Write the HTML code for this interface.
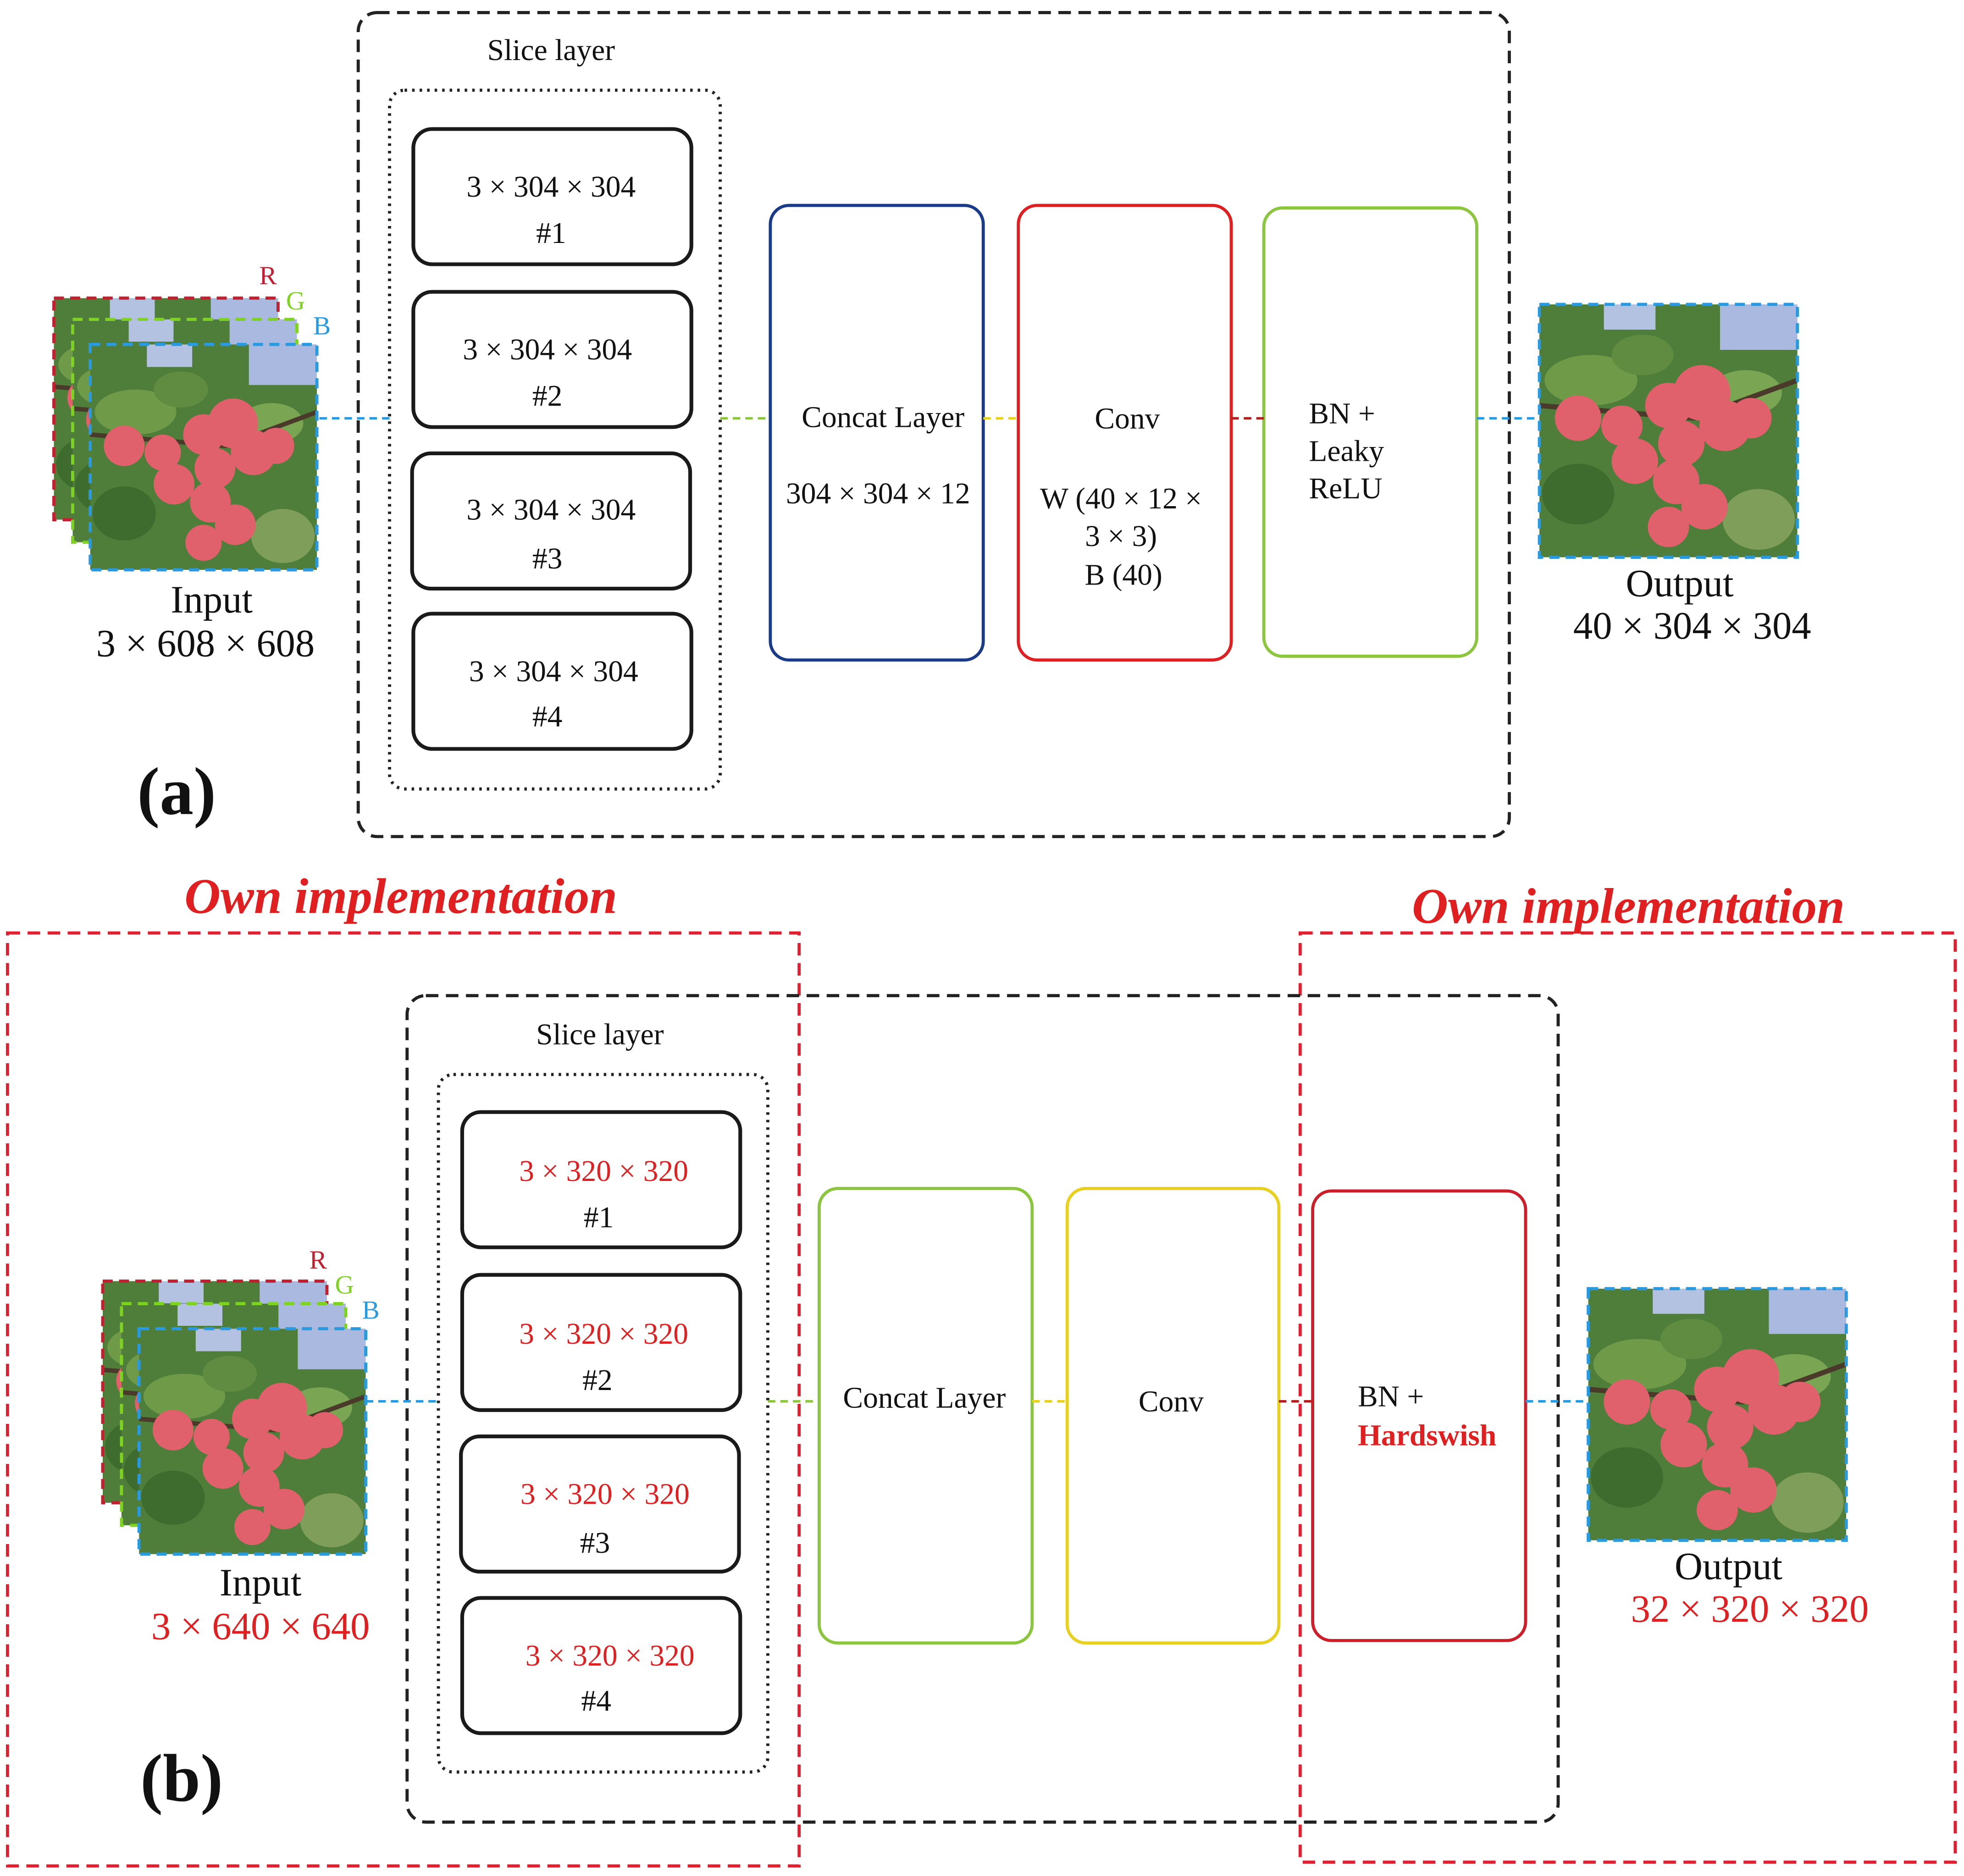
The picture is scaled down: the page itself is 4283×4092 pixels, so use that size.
<!DOCTYPE html>
<html><head><meta charset="utf-8"><style>html,body{margin:0;padding:0;background:#fff}svg{display:block}</style></head>
<body>
<svg width="4283" height="4092" viewBox="0 0 1568 1498" xmlns="http://www.w3.org/2000/svg" font-family="'Liberation Serif', serif">
<defs>
<symbol id="ph" viewBox="0 0 100 100" preserveAspectRatio="none">
<rect width="100" height="100" fill="#4f7e3a"/>
<rect x="70" y="0" width="30" height="18" fill="#a9b9df"/>
<rect x="25" y="0" width="20" height="10" fill="#b4c2e2"/>
<ellipse cx="20" cy="30" rx="18" ry="10" fill="#6f9a48"/>
<ellipse cx="80" cy="35" rx="14" ry="9" fill="#7aa552"/>
<ellipse cx="15" cy="75" rx="14" ry="12" fill="#3e6b2e"/>
<ellipse cx="85" cy="85" rx="14" ry="12" fill="#7f9e5a"/>
<ellipse cx="40" cy="20" rx="12" ry="8" fill="#5f8c40"/>
<path d="M0 40 L60 45 L100 30" stroke="#4a3a2a" stroke-width="2" fill="none"/>
<g fill="#e0606c">
<circle cx="15" cy="45" r="9"/><circle cx="50" cy="40" r="9"/><circle cx="63" cy="35" r="11"/><circle cx="72" cy="48" r="10"/>
<circle cx="55" cy="55" r="9"/><circle cx="82" cy="45" r="8"/><circle cx="37" cy="62" r="9"/><circle cx="53" cy="70" r="9"/>
<circle cx="64" cy="80" r="9"/><circle cx="50" cy="88" r="8"/><circle cx="32" cy="48" r="8"/></g>
</symbol>
</defs>
<g fill="none">
<rect x="286" y="10" width="919" height="658" rx="15" stroke="#222" stroke-width="2.5" stroke-dasharray="10,6"/>
<rect x="311" y="72" width="264" height="558" rx="12" stroke="#222" stroke-width="2.5" stroke-dasharray="2,4"/>
<rect x="330" y="103" width="222" height="108" rx="15" stroke="#1a1a1a" stroke-width="3"/>
<rect x="330" y="233" width="222" height="108" rx="15" stroke="#1a1a1a" stroke-width="3"/>
<rect x="329" y="362" width="222" height="108" rx="15" stroke="#1a1a1a" stroke-width="3"/>
<rect x="330" y="490" width="222" height="108" rx="15" stroke="#1a1a1a" stroke-width="3"/>
<rect x="615" y="164" width="170" height="363" rx="15" stroke="#1a3a8a" stroke-width="2.5"/>
<rect x="813" y="164" width="170" height="363" rx="15" stroke="#e02020" stroke-width="2.5"/>
<rect x="1009" y="166" width="170" height="358" rx="15" stroke="#8cc63f" stroke-width="2.5"/>
<g stroke-width="2" stroke-dasharray="6,4">
<line x1="255" y1="334" x2="311" y2="334" stroke="#2a9ae0"/>
<line x1="575" y1="334" x2="615" y2="334" stroke="#8cc63f"/>
<line x1="785" y1="334" x2="813" y2="334" stroke="#e8d020"/>
<line x1="983" y1="334" x2="1009" y2="334" stroke="#b02020"/>
<line x1="1179" y1="334" x2="1229" y2="334" stroke="#2a9ae0"/>
</g>
<use href="#ph" x="43" y="238" width="179" height="177"/>
<rect x="43" y="238" width="179" height="177" stroke="#c02030" stroke-width="2.5" stroke-dasharray="8,5"/>
<use href="#ph" x="58" y="255" width="179" height="178"/>
<rect x="58" y="255" width="179" height="178" stroke="#7ed321" stroke-width="2.5" stroke-dasharray="8,5"/>
<use href="#ph" x="72" y="275" width="181" height="180"/>
<rect x="72" y="275" width="181" height="180" stroke="#2a9ae0" stroke-width="2.5" stroke-dasharray="8,5"/>
<use href="#ph" x="1229" y="243" width="206" height="202"/>
<rect x="1229" y="243" width="206" height="202" stroke="#2a9ae0" stroke-width="2.5" stroke-dasharray="8,5"/>

<rect x="6" y="745" width="632" height="745" stroke="#e02030" stroke-width="2.5" stroke-dasharray="10,6"/>
<rect x="1038" y="745" width="523" height="742" stroke="#e02030" stroke-width="2.5" stroke-dasharray="10,6"/>
<rect x="325" y="795" width="919" height="660" rx="15" stroke="#222" stroke-width="2.5" stroke-dasharray="10,6"/>
<rect x="350" y="858" width="263" height="557" rx="12" stroke="#222" stroke-width="2.5" stroke-dasharray="2,4"/>
<rect x="369" y="888" width="222" height="108" rx="15" stroke="#1a1a1a" stroke-width="3"/>
<rect x="369" y="1018" width="222" height="108" rx="15" stroke="#1a1a1a" stroke-width="3"/>
<rect x="368" y="1147" width="222" height="108" rx="15" stroke="#1a1a1a" stroke-width="3"/>
<rect x="369" y="1276" width="222" height="108" rx="15" stroke="#1a1a1a" stroke-width="3"/>
<rect x="654" y="949" width="170" height="363" rx="15" stroke="#8cc63f" stroke-width="2.5"/>
<rect x="852" y="949" width="169" height="363" rx="15" stroke="#e8d020" stroke-width="2.5"/>
<rect x="1048" y="951" width="170" height="359" rx="15" stroke="#cc1f2a" stroke-width="2.5"/>
<g stroke-width="2" stroke-dasharray="6,4">
<line x1="292" y1="1119" x2="350" y2="1119" stroke="#2a9ae0"/>
<line x1="613" y1="1119" x2="654" y2="1119" stroke="#8cc63f"/>
<line x1="824" y1="1119" x2="852" y2="1119" stroke="#e8d020"/>
<line x1="1021" y1="1119" x2="1048" y2="1119" stroke="#b02020"/>
<line x1="1218" y1="1119" x2="1268" y2="1119" stroke="#2a9ae0"/>
</g>
<use href="#ph" x="82" y="1023" width="179" height="177"/>
<rect x="82" y="1023" width="179" height="177" stroke="#c02030" stroke-width="2.5" stroke-dasharray="8,5"/>
<use href="#ph" x="97" y="1041" width="179" height="177"/>
<rect x="97" y="1041" width="179" height="177" stroke="#7ed321" stroke-width="2.5" stroke-dasharray="8,5"/>
<use href="#ph" x="111" y="1061" width="181" height="180"/>
<rect x="111" y="1061" width="181" height="180" stroke="#2a9ae0" stroke-width="2.5" stroke-dasharray="8,5"/>
<use href="#ph" x="1268" y="1029" width="206" height="201"/>
<rect x="1268" y="1029" width="206" height="201" stroke="#2a9ae0" stroke-width="2.5" stroke-dasharray="8,5"/>
</g>

<g fill="#111" font-size="24" text-anchor="middle">
<text x="440" y="48">Slice layer</text>
<text x="440" y="157">3 × 304 × 304</text><text x="440" y="194">#1</text>
<text x="437" y="287">3 × 304 × 304</text><text x="437" y="324">#2</text>
<text x="440" y="415">3 × 304 × 304</text><text x="437" y="454">#3</text>
<text x="442" y="544">3 × 304 × 304</text><text x="437" y="580">#4</text>
<text x="705" y="341">Concat Layer</text>
<text x="701" y="402">304 × 304 × 12</text>
<text x="900" y="342">Conv</text>
<text x="895" y="406">W (40 × 12 ×</text>
<text x="895" y="436">3 × 3)</text>
<text x="897" y="467">B (40)</text>
<text x="1045" y="338" text-anchor="start">BN +</text>
<text x="1045" y="368" text-anchor="start">Leaky</text>
<text x="1045" y="398" text-anchor="start">ReLU</text>
<text x="214" y="227" fill="#c02030" font-size="21">R</text>
<text x="236" y="247" fill="#7ed321" font-size="21">G</text>
<text x="257" y="267" fill="#2a9ae0" font-size="21">B</text>
<text x="169" y="489" font-size="31">Input</text>
<text x="164" y="524" font-size="31">3 × 608 × 608</text>
<text x="1341" y="476" font-size="31">Output</text>
<text x="1351" y="510" font-size="31">40 × 304 × 304</text>
<text x="141" y="650" font-size="54" font-weight="bold">(a)</text>

<text x="320" y="729" fill="#e02020" font-size="40" font-weight="bold" font-style="italic">Own implementation</text>
<text x="1300" y="737" fill="#e02020" font-size="40" font-weight="bold" font-style="italic">Own implementation</text>
<text x="479" y="834">Slice layer</text>
<g fill="#e02020"><text x="482" y="943">3 × 320 × 320</text><text x="482" y="1073">3 × 320 × 320</text><text x="483" y="1201">3 × 320 × 320</text><text x="487" y="1330">3 × 320 × 320</text></g>
<text x="478" y="980">#1</text><text x="477" y="1110">#2</text><text x="475" y="1240">#3</text><text x="476" y="1366">#4</text>
<text x="738" y="1124">Concat Layer</text>
<text x="935" y="1127">Conv</text>
<text x="1084" y="1123" text-anchor="start">BN +</text>
<text x="1084" y="1154" text-anchor="start" fill="#e02020" font-weight="bold">Hardswish</text>
<text x="254" y="1013" fill="#c02030" font-size="21">R</text>
<text x="275" y="1033" fill="#7ed321" font-size="21">G</text>
<text x="296" y="1053" fill="#2a9ae0" font-size="21">B</text>
<text x="208" y="1274" font-size="31">Input</text>
<text x="208" y="1309" font-size="31" fill="#e02020">3 × 640 × 640</text>
<text x="1380" y="1261" font-size="31">Output</text>
<text x="1397" y="1295" font-size="31" fill="#e02020">32 × 320 × 320</text>
<text x="145" y="1438" font-size="54" font-weight="bold">(b)</text>
</g>
</svg>
</body></html>
